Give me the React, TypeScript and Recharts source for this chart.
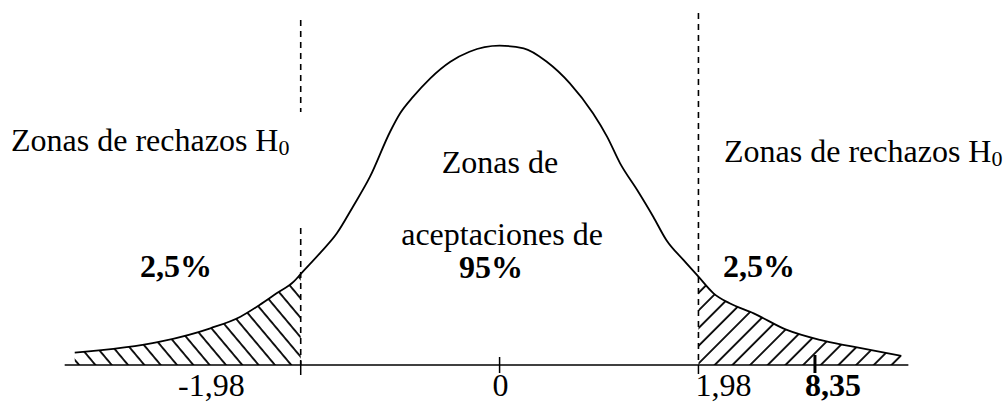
import React from 'react';
import { ComposedChart, Line, Area, XAxis, YAxis, ReferenceLine } from 'recharts';

// z positions along the axis (units of the standardised variable)
const zValues = [
  -4.23, -3.38, -2.88, -2.58, -2.39, -2.22, -2.05, -1.98, -1.79, -1.62, -1.46, -1.29,
  -1.09, -0.99, -0.86, -0.69, -0.49, -0.3, 0, 0.24, 0.47, 0.7, 0.93, 1.07, 1.2, 1.37,
  1.53, 1.66, 1.83, 1.98, 2.13, 2.29, 2.53, 2.86, 3.19, 3.52, 4.0,
];

// curve height
const density = [
  0.0154, 0.0291, 0.0459, 0.0604, 0.075, 0.0896, 0.1041, 0.1138, 0.1396, 0.1646, 0.1979, 0.2354,
  0.2916, 0.3146, 0.3354, 0.3584, 0.3791, 0.3916, 0.3991, 0.3959, 0.3791, 0.3521, 0.3146, 0.2854,
  0.2521, 0.2188, 0.1854, 0.1563, 0.1313, 0.1104, 0.0896, 0.0771, 0.0646, 0.0438, 0.0313, 0.0229,
  0.0113,
];

const criticalLeft = -1.98;
const criticalRight = 1.98;

const tickValues = [-1.98, 0, 1.98, 3.14];
const tickLabels = ['-1,98', '0', '1,98', '8,35'];

const data = zValues.map((z, i) => ({
  z,
  y: density[i],
  left: z <= criticalLeft ? density[i] : null,
  right: z >= criticalRight ? density[i] : null,
}));

const FONT = "'Liberation Serif', 'Times New Roman', serif";
const SIZE = 32;

// how each tick mark / label is drawn (same order as tickValues)
const tickStyles = [
  { anchor: 'end', dx: -56, up: 4, down: 10, w: 1.5, bold: false },
  { anchor: 'middle', dx: 1, up: 8, down: 8, w: 1.5, bold: false },
  { anchor: 'start', dx: -3, up: 0, down: 9, w: 1.5, bold: false },
  { anchor: 'start', dx: -10, up: 10, down: 8, w: 3, bold: true },
];

const AxisTick = (props: any) => {
  const { x, y, payload } = props;
  const i = tickValues.indexOf(payload.value);
  const s = tickStyles[i];
  if (!s) return null;
  return (
    <g>
      <line x1={x} x2={x} y1={y - s.up} y2={y + s.down} stroke="#000" strokeWidth={s.w} />
      <text
        x={x + s.dx}
        y={y + 31}
        textAnchor={s.anchor}
        fontFamily={FONT}
        fontSize={SIZE}
        fontWeight={s.bold ? 'bold' : 'normal'}
        fill="#000"
      >
        {tickLabels[i]}
      </text>
    </g>
  );
};

const txt = { fontFamily: FONT, fontSize: SIZE, fill: '#000' };

export default function App() {
  return (
    <div style={{ position: 'absolute', left: 0, top: 0, width: 1008, height: 403, background: '#fff' }}>
      <ComposedChart width={1008} height={403} data={data} margin={{ top: 0, right: 0, bottom: 8, left: 0 }}>
        <defs>
          <pattern id="hatchL" patternUnits="userSpaceOnUse" width={12.5} height={12.5} patternTransform="rotate(-40)">
            <line x1={1} y1={0} x2={1} y2={12.5} stroke="#000" strokeWidth={1.8} />
          </pattern>
          <pattern id="hatchR" patternUnits="userSpaceOnUse" width={12.5} height={12.5} patternTransform="rotate(45)">
            <line x1={1} y1={0} x2={1} y2={12.5} stroke="#000" strokeWidth={1.8} />
          </pattern>
        </defs>

        <XAxis
          dataKey="z"
          type="number"
          domain={[-4.974, 5.062]}
          allowDataOverflow
          ticks={tickValues}
          interval={0}
          axisLine={false}
          tickLine={false}
          tickSize={0}
          tickMargin={0}
          height={30}
          tick={<AxisTick />}
        />
        <YAxis hide type="number" domain={[0, 0.45625]} allowDataOverflow />

        <Area dataKey="left" type="monotone" stroke="none" fill="url(#hatchL)" fillOpacity={1} dot={false} activeDot={false} isAnimationActive={false} />
        <Area dataKey="right" type="monotone" stroke="none" fill="url(#hatchR)" fillOpacity={1} dot={false} activeDot={false} isAnimationActive={false} />

        {/* axis line */}
        <ReferenceLine segment={[{ x: -4.33, y: 0 }, { x: 4.07, y: 0 }]} stroke="#000" strokeWidth={1.6} />

        {/* critical values */}
        <ReferenceLine segment={[{ x: criticalLeft, y: 0.4312 }, { x: criticalLeft, y: 0.3162 }]} stroke="#000" strokeWidth={1.6} strokeDasharray="6 5" />
        <ReferenceLine segment={[{ x: criticalLeft, y: 0.1712 }, { x: criticalLeft, y: 0 }]} stroke="#000" strokeWidth={1.6} strokeDasharray="6 5" />
        <ReferenceLine segment={[{ x: criticalRight, y: 0.44 }, { x: criticalRight, y: 0 }]} stroke="#000" strokeWidth={1.6} strokeDasharray="6 5" />

        <Line dataKey="y" type="monotone" stroke="#000" strokeWidth={1.8} dot={false} activeDot={false} isAnimationActive={false} />
      </ComposedChart>

      <svg width={1008} height={403} style={{ position: 'absolute', left: 0, top: 0, pointerEvents: 'none' }}>
        <text x={11} y={151} {...txt}>
          Zonas de rechazos H<tspan fontSize={22} dy={4}>0</tspan>
        </text>
        <text x={724} y={162} {...txt}>
          Zonas de rechazos H<tspan fontSize={22} dy={4}>0</tspan>
        </text>
        <text x={500} y={173} textAnchor="middle" {...txt}>Zonas de</text>
        <text x={502} y={245} textAnchor="middle" {...txt}>aceptaciones de</text>
        <text x={491} y={278} textAnchor="middle" fontWeight="bold" {...txt}>95%</text>
        <text x={140} y={277} fontWeight="bold" {...txt}>2,5%</text>
        <text x={723} y={277} fontWeight="bold" {...txt}>2,5%</text>
      </svg>
    </div>
  );
}
